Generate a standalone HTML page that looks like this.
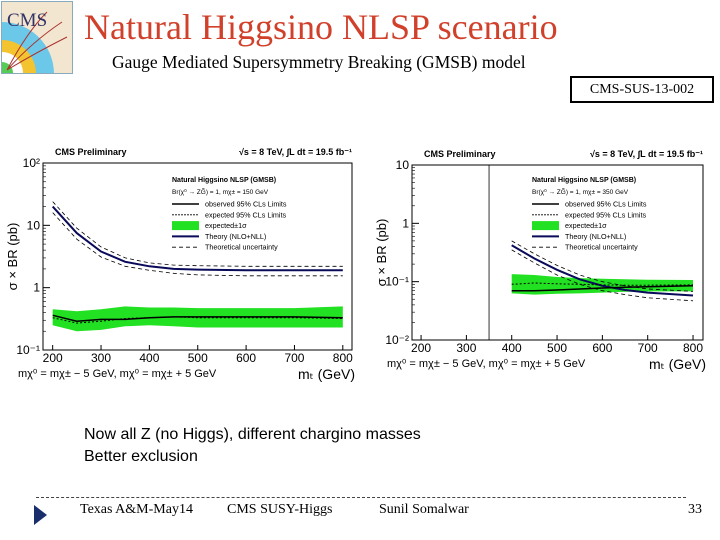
<!DOCTYPE html>
<html><head><meta charset="utf-8"><style>
body{margin:0;width:720px;height:540px;background:#fff;position:relative;overflow:hidden;font-family:"Liberation Serif",serif}
.abs{position:absolute}
</style></head><body>
<div class="abs" style="left:1px;top:1px;width:70px;height:71px;background:#f3e6d0;border:1px solid #8ab;overflow:hidden">
<svg width="70" height="71"><path d="M0 20 A52 52 0 0 1 52 71 L0 71Z" fill="#6cc8e8"/><path d="M0 38 A34 34 0 0 1 34 71 L0 71Z" fill="#f4c430"/><path d="M0 50 A21 21 0 0 1 21 71 L0 71Z" fill="#fff"/><path d="M0 60 A11 11 0 0 1 11 71 L0 71Z" fill="#5c5"/><path d="M5 68 Q30 40 60 20 M5 68 Q35 50 65 35 M5 68 Q25 30 45 10" stroke="#a33" fill="none"/><text x="5" y="24" font-size="19" fill="#336" font-family="Liberation Serif">CMS</text></svg></div>
<div class="abs" style="left:84px;top:6px;font-size:36px;color:#d0402a;white-space:nowrap">Natural Higgsino NLSP scenario</div>
<div class="abs" style="left:112px;top:52px;font-size:17.5px;white-space:nowrap">Gauge Mediated Supersymmetry Breaking (GMSB) model</div>
<div class="abs" style="left:570px;top:76px;width:144px;height:27px;box-sizing:border-box;border:2px solid #000;font-size:14px;text-align:center;line-height:23px">CMS-SUS-13-002</div>
<svg class="abs" style="left:0;top:0" width="720" height="540" id="charts"></svg>
<div class="abs" style="left:84px;top:424px;font-family:'Liberation Sans',sans-serif;font-size:16px;line-height:22px">Now all Z (no Higgs), different chargino masses<br>Better exclusion</div>
<div class="abs" style="left:36px;top:497px;width:650px;border-top:1px dashed #444"></div>
<svg class="abs" style="left:34px;top:505px" width="14" height="20"><path d="M0 0L13 10L0 20Z" fill="#1a2e6b"/></svg>
<div class="abs" style="left:80px;top:502px;font-size:14px">Texas A&amp;M-May14</div>
<div class="abs" style="left:227px;top:502px;font-size:14px">CMS SUSY-Higgs</div>
<div class="abs" style="left:379px;top:502px;font-size:14px">Sunil Somalwar</div>
<div class="abs" style="left:688px;top:502px;font-size:14px">33</div>
<script>
const L_mass=[200,250,300,350,400,450,500,600,700,800];
const L_theory=[20,7.5,3.8,2.6,2.2,2.0,1.95,1.9,1.9,1.9];
const L_theoryUp=[24,9,4.5,3.0,2.5,2.3,2.25,2.2,2.2,2.2];
const L_theoryDn=[16,6,3.1,2.2,1.9,1.7,1.6,1.55,1.55,1.55];
const L_observed=[0.36,0.29,0.31,0.31,0.33,0.34,0.34,0.34,0.34,0.33];
const L_expected=[0.33,0.27,0.29,0.32,0.33,0.34,0.33,0.33,0.33,0.32];
const L_bandHi=[0.45,0.42,0.45,0.5,0.48,0.48,0.47,0.47,0.47,0.5];
const L_bandLo=[0.25,0.2,0.21,0.24,0.25,0.24,0.23,0.23,0.23,0.23];
const R_mass=[400,450,500,550,600,650,700,800];
const R_theory=[0.42,0.25,0.16,0.11,0.085,0.072,0.065,0.058];
const R_theoryUp=[0.5,0.3,0.19,0.13,0.1,0.085,0.075,0.068];
const R_theoryDn=[0.35,0.21,0.13,0.09,0.07,0.06,0.053,0.047];
const R_observed=[0.07,0.07,0.072,0.075,0.078,0.08,0.082,0.085];
const R_expected=[0.09,0.095,0.092,0.09,0.088,0.087,0.087,0.088];
const R_bandHi=[0.135,0.13,0.12,0.115,0.112,0.11,0.108,0.107];
const R_bandLo=[0.063,0.06,0.062,0.063,0.065,0.067,0.068,0.068];
const xTicks=[200,300,400,500,600,700,800];
const L_yLabels=["10\u207B\u00B9","1","10","10\u00B2"];
const R_yLabels=["10\u207B\u00B2","10\u207B\u00B9","1","10"];
const L_mN="150", R_mN="350";
const NS="http://www.w3.org/2000/svg";
const svg=document.getElementById('charts');
function el(t,a,p){const e=document.createElementNS(NS,t);for(const k in a)e.setAttribute(k,a[k]);(p||svg).appendChild(e);return e;}
function chart(o){
 const g=el('g',{});
 
 
 const X=m=>o.x0+(m-o.m0)*(o.x1-o.x0)/(o.m1-o.m0);
 const Y=v=>o.y1-(Math.log10(v)-o.lmin)*(o.y1-o.y0)/(o.lmax-o.lmin);
 const line=(xs,ys)=>xs.map((m,i)=>(i?'L':'M')+X(m).toFixed(1)+' '+Y(ys[i]).toFixed(1)).join('');
 const band=el('path',{d:line(o.mass,o.hi)+o.mass.slice().reverse().map((m,i,a)=>'L'+X(m)+' '+Y(o.lo[o.mass.length-1-i])).join('')+'Z',fill:'#22e022'},g);
 
 
 const th=el('path',{d:line(o.mass,o.th),stroke:'#0a0a5a','stroke-width':2,fill:'none'},g);
 
 
 [o.up,o.dn].forEach(a=>{const p=el('path',{d:line(o.mass,a),stroke:'#000','stroke-width':0.8,'stroke-dasharray':'4 3',fill:'none'},g);
  
  });
 const ob=el('path',{d:line(o.mass,o.obs),stroke:'#000','stroke-width':1.5,fill:'none'},g);
 
 
 const ex=el('path',{d:line(o.mass,o.exp),stroke:'#000','stroke-width':1,'stroke-dasharray':'2 2',fill:'none'},g);
 
 
 if(o.vline){const v=el('line',{x1:X(o.vline),x2:X(o.vline),y1:o.y0,y2:o.y1,stroke:'#333'},g);
  
  }
 el('rect',{x:o.x0,y:o.y0,width:o.x1-o.x0,height:o.y1-o.y0,fill:'none',stroke:'#000','stroke-width':1},g);
 xTicks.forEach(t=>{el('line',{x1:X(t),x2:X(t),y1:o.y1,y2:o.y1-5,stroke:'#000'},g);
  const tx=el('text',{x:X(t),y:o.y1+12,'font-size':12,'text-anchor':'middle','font-family':'Liberation Sans'},g);tx.textContent=t;
  
  });
 o.yl.forEach((s,i)=>{const v=Math.pow(10,o.lmin+i);el('line',{x1:o.x0,x2:o.x0+7,y1:Y(v),y2:Y(v),stroke:'#000'},g);
  for(let k=2;k<10&&i<o.yl.length-1;k++){el('line',{x1:o.x0,x2:o.x0+3,y1:Y(v*k),y2:Y(v*k),stroke:'#000','stroke-width':0.6},g);}
  const tx=el('text',{x:o.x0-3,y:Y(v)+4,'font-size':12,'text-anchor':'end','font-family':'Liberation Sans'},g);tx.textContent=s;
  
  });
 const t1=el('text',{x:o.x0+12,y:o.y0-8,'font-size':9,'font-weight':'bold','font-family':'Liberation Sans'},g);t1.textContent='CMS Preliminary';
 const t2=el('text',{x:o.x1,y:o.y0-8,'font-size':9,'font-weight':'bold','text-anchor':'end','font-family':'Liberation Sans'},g);t2.textContent='\u221As = 8 TeV, \u222BL dt = 19.5 fb\u207B\u00B9';
 const yt=el('text',{transform:`translate(${o.x0-26},${(o.y0+o.y1)/2}) rotate(-90)`,'font-size':13,'text-anchor':'middle','font-family':'Liberation Sans'},g);yt.textContent='\u03C3 \u00D7 BR (pb)';
 
 
 const xt=el('text',{x:o.x1+3,y:o.y1+29,'font-size':14,'text-anchor':'end','font-family':'Liberation Sans'},g);xt.textContent='m\u209C (GeV)';
 
 
 const nt=el('text',{x:o.x0-25,y:o.y1+27,'font-size':11,'font-family':'Liberation Sans'},g);nt.textContent='m\u03C7\u2070 = m\u03C7\u00B1 \u2212 5 GeV, m\u03C7\u2070 = m\u03C7\u00B1 + 5 GeV';
 const lx=o.lx, ly=o.ly;
 const lt=el('text',{x:lx,y:ly,'font-size':7,'font-weight':'bold','font-family':'Liberation Sans'},g);lt.textContent='Natural Higgsino NLSP (GMSB)';
 const l2=el('text',{x:lx,y:ly+12,'font-size':6.5,'font-family':'Liberation Sans'},g);l2.textContent='Br(\u03C7\u2070 \u2192 ZG\u0303) = 1, m\u03C7\u00B1 = '+o.mN+' GeV';
 const items=[['observed 95% CLs Limits','obs'],['expected 95% CLs Limits','exp'],['expected\u00B11\u03C3','band'],['Theory (NLO+NLL)','th'],['Theoretical uncertainty','unc']];
 items.forEach((it,i)=>{const yy=ly+22+i*10.8;
  if(it[1]=='band')el('rect',{x:lx,y:yy-4.5,width:27,height:9,fill:'#22e022'},g);
  else el('line',{x1:lx,x2:lx+27,y1:yy,y2:yy,stroke:it[1]=='th'?'#0a0a5a':'#000','stroke-width':it[1]=='th'?2:it[1]=='obs'?1.5:0.8,'stroke-dasharray':it[1]=='exp'?'2 1':it[1]=='unc'?'4 3':'none'},g);
  const tx=el('text',{x:lx+33,y:yy+2.5,'font-size':7.2,'font-family':'Liberation Sans'},g);tx.textContent=it[0];
  
  });
}
chart({name:'left-chart',x0:43,x1:352,y0:163,y1:350,m0:180,m1:819,lmin:-1,lmax:2,yl:L_yLabels,mass:L_mass,th:L_theory,up:L_theoryUp,dn:L_theoryDn,obs:L_observed,exp:L_expected,hi:L_bandHi,lo:L_bandLo,lx:172,ly:182,mN:L_mN});
chart({name:'right-chart',x0:412,x1:703,y0:165,y1:340,m0:180,m1:822,lmin:-2,lmax:1,yl:R_yLabels,mass:R_mass,th:R_theory,up:R_theoryUp,dn:R_theoryDn,obs:R_observed,exp:R_expected,hi:R_bandHi,lo:R_bandLo,lx:532,ly:182,mN:R_mN,vline:350});
</script>
</body></html>
